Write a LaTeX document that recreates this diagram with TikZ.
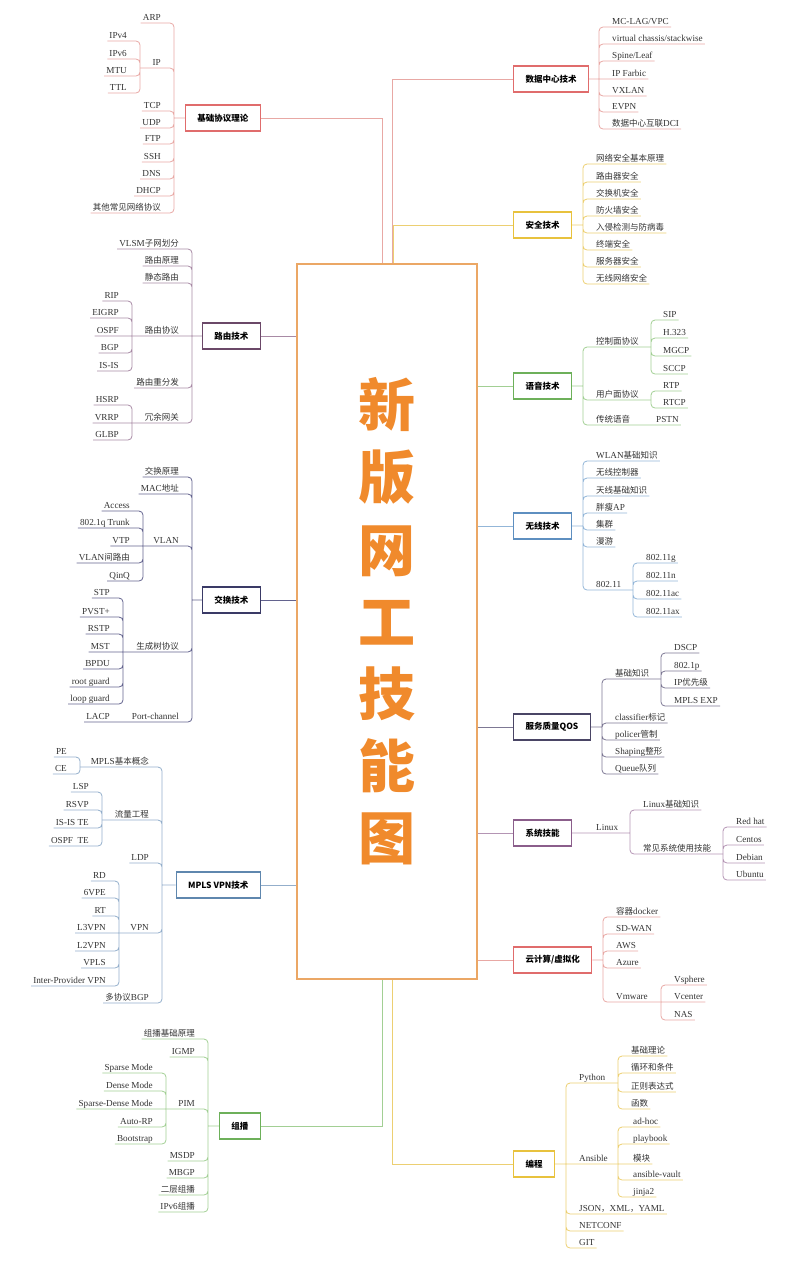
\documentclass[tikz,border=0pt]{standalone}
\usepackage{fontspec}
\setmainfont{Liberation Serif}[Scale=1.08]
\newfontfamily\cjk{Noto Sans CJK SC}
\newcommand\zh[1]{{\cjk #1}}

\definecolor{coreC}{HTML}{EBA765}
\definecolor{titleC}{HTML}{F08A2C}
\definecolor{txtC}{HTML}{333333}
\definecolor{redB}{HTML}{E06C6C}
\definecolor{redL}{HTML}{E8A8A4}
\definecolor{yelB}{HTML}{E8C23E}
\definecolor{yelL}{HTML}{ECCF72}
\definecolor{mauB}{HTML}{6B4868}
\definecolor{mauL}{HTML}{A88AA5}
\definecolor{grnB}{HTML}{6DB05A}
\definecolor{grnL}{HTML}{A2CF94}
\definecolor{bluB}{HTML}{5E8FC0}
\definecolor{bluL}{HTML}{93B6D8}
\definecolor{navB}{HTML}{3A3A66}
\definecolor{navL}{HTML}{63638E}
\definecolor{qosB}{HTML}{4A4565}
\definecolor{qosL}{HTML}{7D7894}
\definecolor{sysB}{HTML}{8B5E8B}
\definecolor{sysL}{HTML}{B495B4}
\definecolor{mplB}{HTML}{5F87AE}
\definecolor{mplL}{HTML}{93AECB}

\begin{document}
\begin{tikzpicture}[x=1pt,y=-1pt,
  lf/.style={inner xsep=2pt,inner ysep=1pt,text height=6.5pt,text depth=1.8pt,text=txtC,font=\fontsize{8.5}{10}\selectfont},
  lfL/.style={lf,anchor=south east},
  lfR/.style={lf,anchor=south west},
  topic/.style={draw,line width=1.2pt,fill=white,minimum height=26pt,inner xsep=12pt,text=black,font=\cjk\bfseries\fontsize{8.5}{10}\selectfont},
  lnk/.style={line width=0.8pt,rounded corners=4pt}]
  \useasboundingbox (0,0) rectangle (800,1280);

  % centre topic
  \node[draw=coreC,line width=1.4pt,minimum width=180pt,minimum height=715pt,inner sep=0pt,text=titleC,align=center,font=\cjk\bfseries\fontsize{57}{72.2}\selectfont] (core) at (387,621.5) {新\\版\\网\\工\\技\\能\\图};

  % main topics, left
  \node[topic,draw=redB,anchor=east] (proto) at (261,118) {基础协议理论};
  \node[topic,draw=mauB,anchor=east] (rt) at (261,336) {路由技术};
  \node[topic,draw=navB,anchor=east] (sw) at (261,600) {交换技术};
  \node[topic,draw=mplB,anchor=east] (mp) at (261,885) {MPLS VPN技术};
  \node[topic,draw=grnB,anchor=east] (mc) at (261,1126) {组播};
  % main topics, right
  \node[topic,draw=redB,anchor=west] (dc) at (513,79) {数据中心技术};
  \node[topic,draw=yelB,anchor=west] (sec) at (513,225) {安全技术};
  \node[topic,draw=grnB,anchor=west] (voi) at (513,386) {语音技术};
  \node[topic,draw=bluB,anchor=west] (wl) at (513,526) {无线技术};
  \node[topic,draw=qosB,anchor=west] (qos) at (513,727) {服务质量QOS};
  \node[topic,draw=sysB,anchor=west] (sys) at (513,833) {系统技能};
  \node[topic,draw=redB,anchor=west] (cld) at (513,960) {云计算/虚拟化};
  \node[topic,draw=yelB,anchor=west] (prg) at (513,1164) {编程};

  % centre to main topics
  \draw[line width=0.8pt,redL] (proto.east) -| ([xshift=-5pt]core.north);
  \draw[line width=0.8pt,redL] (dc.west) -| ([xshift=5pt]core.north);
  \draw[line width=0.8pt,yelL] (sec.west) -| ([xshift=6pt]core.north);
  \draw[line width=0.8pt,mauL] (rt.east) -- (rt.east -| core.west);
  \draw[line width=0.8pt,navL] (sw.east) -- (sw.east -| core.west);
  \draw[line width=0.8pt,mplL] (mp.east) -- (mp.east -| core.west);
  \draw[line width=0.8pt,grnL] (mc.east) -| ([xshift=-5pt]core.south);
  \draw[line width=0.8pt,grnL] (voi.west) -- (voi.west -| core.east);
  \draw[line width=0.8pt,bluL] (wl.west) -- (wl.west -| core.east);
  \draw[line width=0.8pt,qosL] (qos.west) -- (qos.west -| core.east);
  \draw[line width=0.8pt,sysL] (sys.west) -- (sys.west -| core.east);
  \draw[line width=0.8pt,redL] (cld.west) -- (cld.west -| core.east);
  \draw[line width=0.8pt,yelL] (prg.west) -| ([xshift=5pt]core.south);

  % 基础协议理论
  \coordinate (prJ) at (174,118);
  \coordinate (ipJ) at (140,68);
  \node[lfL] (pr1) at (163,23) {ARP};
  \node[lfL] (pr2) at (163,68) {IP};
  \node[lfL] (pr3) at (163,111) {TCP};
  \node[lfL] (pr4) at (163,128) {UDP};
  \node[lfL] (pr5) at (163,144) {FTP};
  \node[lfL] (pr6) at (163,162) {SSH};
  \node[lfL] (pr7) at (163,179) {DNS};
  \node[lfL] (pr8) at (163,196) {DHCP};
  \node[lfL] (pr9) at (163,213) {\zh{其他常见网络协议}};
  \node[lfL] (ip1) at (129,41) {IPv4};
  \node[lfL] (ip2) at (129,59) {IPv6};
  \node[lfL] (ip3) at (129,76) {MTU};
  \node[lfL] (ip4) at (129,93) {TTL};
  \draw[lnk,redL] (proto.west) -- (prJ)
    (prJ) |- (pr1.south east) -- (pr1.south west)
    (prJ) |- (pr2.south east) -- (ipJ)
    (prJ) |- (pr3.south east) -- (pr3.south west)
    (prJ) |- (pr4.south east) -- (pr4.south west)
    (prJ) |- (pr5.south east) -- (pr5.south west)
    (prJ) |- (pr6.south east) -- (pr6.south west)
    (prJ) |- (pr7.south east) -- (pr7.south west)
    (prJ) |- (pr8.south east) -- (pr8.south west)
    (prJ) |- (pr9.south east) -- (pr9.south west);
  \draw[lnk,redL] (ipJ) |- (ip1.south east) -- (ip1.south west)
    (ipJ) |- (ip2.south east) -- (ip2.south west)
    (ipJ) |- (ip3.south east) -- (ip3.south west)
    (ipJ) |- (ip4.south east) -- (ip4.south west);

  % 路由技术
  \coordinate (rtJ) at (192,336);
  \coordinate (rpJ) at (132,336);
  \coordinate (gwJ) at (132,423);
  \node[lfL] (rt1) at (181,249) {VLSM\zh{子网划分}};
  \node[lfL] (rt2) at (181,266) {\zh{路由原理}};
  \node[lfL] (rt3) at (181,283) {\zh{静态路由}};
  \node[lfL] (rt4) at (181,336) {\zh{路由协议}};
  \node[lfL] (rt5) at (181,388) {\zh{路由重分发}};
  \node[lfL] (rt6) at (181,423) {\zh{冗余网关}};
  \node[lfL] (rp1) at (121,301) {RIP};
  \node[lfL] (rp2) at (121,318) {EIGRP};
  \node[lfL] (rp3) at (121,336) {OSPF};
  \node[lfL] (rp4) at (121,353) {BGP};
  \node[lfL] (rp5) at (121,371) {IS-IS};
  \node[lfL] (gw1) at (121,405) {HSRP};
  \node[lfL] (gw2) at (121,423) {VRRP};
  \node[lfL] (gw3) at (121,440) {GLBP};
  \draw[lnk,mauL] (rt.west) -- (rtJ)
    (rtJ) |- (rt1.south east) -- (rt1.south west)
    (rtJ) |- (rt2.south east) -- (rt2.south west)
    (rtJ) |- (rt3.south east) -- (rt3.south west)
    (rtJ) -- (rt4.south east) -- (rpJ)
    (rtJ) |- (rt5.south east) -- (rt5.south west)
    (rtJ) |- (rt6.south east) -- (gwJ);
  \draw[lnk,mauL] (rpJ) |- (rp1.south east) -- (rp1.south west)
    (rpJ) |- (rp2.south east) -- (rp2.south west)
    (rpJ) -- (rp3.south east) -- (rp3.south west)
    (rpJ) |- (rp4.south east) -- (rp4.south west)
    (rpJ) |- (rp5.south east) -- (rp5.south west)
    (gwJ) |- (gw1.south east) -- (gw1.south west)
    (gwJ) -- (gw2.south east) -- (gw2.south west)
    (gwJ) |- (gw3.south east) -- (gw3.south west);

  % 交换技术
  \coordinate (swJ) at (192,600);
  \coordinate (vlJ) at (143,546);
  \coordinate (stJ) at (123,652);
  \coordinate (pcJ) at (123,722);
  \node[lfL] (sw1) at (181,477) {\zh{交换原理}};
  \node[lfL] (sw2) at (181,494) {MAC\zh{地址}};
  \node[lfL] (sw3) at (181,546) {VLAN};
  \node[lfL] (sw4) at (181,652) {\zh{生成树协议}};
  \node[lfL] (sw5) at (181,722) {Port-channel};
  \node[lfL] (vl1) at (132,511) {Access};
  \node[lfL] (vl2) at (132,528) {802.1q Trunk};
  \node[lfL] (vl3) at (132,546) {VTP};
  \node[lfL] (vl4) at (132,563) {VLAN\zh{间路由}};
  \node[lfL] (vl5) at (132,581) {QinQ};
  \node[lfL] (st1) at (112,598) {STP};
  \node[lfL] (st2) at (112,617) {PVST+};
  \node[lfL] (st3) at (112,634) {RSTP};
  \node[lfL] (st4) at (112,652) {MST};
  \node[lfL] (st5) at (112,669) {BPDU};
  \node[lfL] (st6) at (112,687) {root guard};
  \node[lfL] (st7) at (112,704) {loop guard};
  \node[lfL] (pc1) at (112,722) {LACP};
  \draw[lnk,navL] (sw.west) -- (swJ)
    (swJ) |- (sw1.south east) -- (sw1.south west)
    (swJ) |- (sw2.south east) -- (sw2.south west)
    (swJ) |- (sw3.south east) -- (vlJ)
    (swJ) |- (sw4.south east) -- (stJ)
    (swJ) |- (sw5.south east) -- (pcJ) -- (pc1.south east) -- (pc1.south west);
  \draw[lnk,navL] (vlJ) |- (vl1.south east) -- (vl1.south west)
    (vlJ) |- (vl2.south east) -- (vl2.south west)
    (vlJ) -- (vl3.south east) -- (vl3.south west)
    (vlJ) |- (vl4.south east) -- (vl4.south west)
    (vlJ) |- (vl5.south east) -- (vl5.south west)
    (stJ) |- (st1.south east) -- (st1.south west)
    (stJ) |- (st2.south east) -- (st2.south west)
    (stJ) |- (st3.south east) -- (st3.south west)
    (stJ) -- (st4.south east) -- (st4.south west)
    (stJ) |- (st5.south east) -- (st5.south west)
    (stJ) |- (st6.south east) -- (st6.south west)
    (stJ) |- (st7.south east) -- (st7.south west);

  % MPLS VPN技术
  \coordinate (mpJ) at (162,885);
  \coordinate (mbJ) at (80,767);
  \coordinate (teJ) at (102,820);
  \coordinate (vpJ) at (119,933);
  \node[lfL] (mp1) at (151,767) {MPLS\zh{基本概念}};
  \node[lfL] (mp2) at (151,820) {\zh{流量工程}};
  \node[lfL] (mp3) at (151,863) {LDP};
  \node[lfL] (mp4) at (151,933) {VPN};
  \node[lfL] (mp5) at (151,1003) {\zh{多协议}BGP};
  \node[lfL] (mb1) at (69,757) {PE};
  \node[lfL] (mb2) at (69,774) {CE};
  \node[lfL] (te1) at (91,792) {LSP};
  \node[lfL] (te2) at (91,810) {RSVP};
  \node[lfL] (te3) at (91,828) {IS-IS TE};
  \node[lfL] (te4) at (91,846) {OSPF\ \ TE};
  \node[lfL] (vp1) at (108,881) {RD};
  \node[lfL] (vp2) at (108,898) {6VPE};
  \node[lfL] (vp3) at (108,916) {RT};
  \node[lfL] (vp4) at (108,933) {L3VPN};
  \node[lfL] (vp5) at (108,951) {L2VPN};
  \node[lfL] (vp6) at (108,968) {VPLS};
  \node[lfL] (vp7) at (108,986) {Inter-Provider VPN};
  \draw[lnk,mplL] (mp.west) -- (mpJ)
    (mpJ) |- (mp1.south east) -- (mbJ)
    (mpJ) |- (mp2.south east) -- (teJ)
    (mpJ) |- (mp3.south east) -- (mp3.south west)
    (mpJ) |- (mp4.south east) -- (vpJ)
    (mpJ) |- (mp5.south east) -- (mp5.south west);
  \draw[lnk,mplL] (mbJ) |- (mb1.south east) -- (mb1.south west)
    (mbJ) |- (mb2.south east) -- (mb2.south west)
    (teJ) |- (te1.south east) -- (te1.south west)
    (teJ) |- (te2.south east) -- (te2.south west)
    (teJ) |- (te3.south east) -- (te3.south west)
    (teJ) |- (te4.south east) -- (te4.south west)
    (vpJ) |- (vp1.south east) -- (vp1.south west)
    (vpJ) |- (vp2.south east) -- (vp2.south west)
    (vpJ) |- (vp3.south east) -- (vp3.south west)
    (vpJ) -- (vp4.south east) -- (vp4.south west)
    (vpJ) |- (vp5.south east) -- (vp5.south west)
    (vpJ) |- (vp6.south east) -- (vp6.south west)
    (vpJ) |- (vp7.south east) -- (vp7.south west);

  % 组播
  \coordinate (mcJ) at (208,1126);
  \coordinate (pmJ) at (166,1109);
  \node[lfL] (mc1) at (197,1039) {\zh{组播基础原理}};
  \node[lfL] (mc2) at (197,1057) {IGMP};
  \node[lfL] (mc3) at (197,1109) {PIM};
  \node[lfL] (mc4) at (197,1161) {MSDP};
  \node[lfL] (mc5) at (197,1178) {MBGP};
  \node[lfL] (mc6) at (197,1195) {\zh{二层组播}};
  \node[lfL] (mc7) at (197,1212) {IPv6\zh{组播}};
  \node[lfL] (pm1) at (155,1073) {Sparse Mode};
  \node[lfL] (pm2) at (155,1091) {Dense Mode};
  \node[lfL] (pm3) at (155,1109) {Sparse-Dense Mode};
  \node[lfL] (pm4) at (155,1127) {Auto-RP};
  \node[lfL] (pm5) at (155,1144) {Bootstrap};
  \draw[lnk,grnL] (mc.west) -- (mcJ)
    (mcJ) |- (mc1.south east) -- (mc1.south west)
    (mcJ) |- (mc2.south east) -- (mc2.south west)
    (mcJ) |- (mc3.south east) -- (pmJ)
    (mcJ) |- (mc4.south east) -- (mc4.south west)
    (mcJ) |- (mc5.south east) -- (mc5.south west)
    (mcJ) |- (mc6.south east) -- (mc6.south west)
    (mcJ) |- (mc7.south east) -- (mc7.south west);
  \draw[lnk,grnL] (pmJ) |- (pm1.south east) -- (pm1.south west)
    (pmJ) |- (pm2.south east) -- (pm2.south west)
    (pmJ) -- (pm3.south east) -- (pm3.south west)
    (pmJ) |- (pm4.south east) -- (pm4.south west)
    (pmJ) |- (pm5.south east) -- (pm5.south west);

  % 数据中心技术
  \coordinate (dcJ) at (599,79);
  \node[lfR] (dc1) at (610,27) {MC-LAG/VPC};
  \node[lfR] (dc2) at (610,44) {virtual chassis/stackwise};
  \node[lfR] (dc3) at (610,61) {Spine/Leaf};
  \node[lfR] (dc4) at (610,79) {IP Farbic};
  \node[lfR] (dc5) at (610,96) {VXLAN};
  \node[lfR] (dc6) at (610,112) {EVPN};
  \node[lfR] (dc7) at (610,129) {\zh{数据中心互联}DCI};
  \draw[lnk,redL] (dc.east) -- (dcJ)
    (dcJ) |- (dc1.south west) -- (dc1.south east)
    (dcJ) |- (dc2.south west) -- (dc2.south east)
    (dcJ) |- (dc3.south west) -- (dc3.south east)
    (dcJ) -- (dc4.south west) -- (dc4.south east)
    (dcJ) |- (dc5.south west) -- (dc5.south east)
    (dcJ) |- (dc6.south west) -- (dc6.south east)
    (dcJ) |- (dc7.south west) -- (dc7.south east);

  % 安全技术
  \coordinate (seJ) at (583,225);
  \node[lfR] (se1) at (594,164) {\zh{网络安全基本原理}};
  \node[lfR] (se2) at (594,182) {\zh{路由器安全}};
  \node[lfR] (se3) at (594,199) {\zh{交换机安全}};
  \node[lfR] (se4) at (594,216) {\zh{防火墙安全}};
  \node[lfR] (se5) at (594,233) {\zh{入侵检测与防病毒}};
  \node[lfR] (se6) at (594,250) {\zh{终端安全}};
  \node[lfR] (se7) at (594,267) {\zh{服务器安全}};
  \node[lfR] (se8) at (594,284) {\zh{无线网络安全}};
  \draw[lnk,yelL] (sec.east) -- (seJ)
    (seJ) |- (se1.south west) -- (se1.south east)
    (seJ) |- (se2.south west) -- (se2.south east)
    (seJ) |- (se3.south west) -- (se3.south east)
    (seJ) |- (se4.south west) -- (se4.south east)
    (seJ) |- (se5.south west) -- (se5.south east)
    (seJ) |- (se6.south west) -- (se6.south east)
    (seJ) |- (se7.south west) -- (se7.south east)
    (seJ) |- (se8.south west) -- (se8.south east);

  % 语音技术
  \coordinate (voJ) at (583,386);
  \coordinate (cpJ) at (651,347);
  \coordinate (upJ) at (651,400);
  \node[lfR] (vo1) at (594,347) {\zh{控制面协议}};
  \node[lfR] (vo2) at (594,400) {\zh{用户面协议}};
  \node[lfR] (vo3) at (594,425) {\zh{传统语音}};
  \node[lfR] (cp1) at (661,320) {SIP};
  \node[lfR] (cp2) at (661,338) {H.323};
  \node[lfR] (cp3) at (661,356) {MGCP};
  \node[lfR] (cp4) at (661,374) {SCCP};
  \node[lfR] (up1) at (661,391) {RTP};
  \node[lfR] (up2) at (661,408) {RTCP};
  \node[lfR] (ps1) at (654,425) {PSTN};
  \draw[lnk,grnL] (voi.east) -- (voJ)
    (voJ) |- (vo1.south west) -- (cpJ)
    (voJ) |- (vo2.south west) -- (upJ)
    (voJ) |- (vo3.south west) -- (ps1.south east);
  \draw[lnk,grnL] (cpJ) |- (cp1.south west) -- (cp1.south east)
    (cpJ) |- (cp2.south west) -- (cp2.south east)
    (cpJ) |- (cp3.south west) -- (cp3.south east)
    (cpJ) |- (cp4.south west) -- (cp4.south east)
    (upJ) |- (up1.south west) -- (up1.south east)
    (upJ) |- (up2.south west) -- (up2.south east);

  % 无线技术
  \coordinate (wlJ) at (583,526);
  \coordinate (w8J) at (633,590);
  \node[lfR] (wl1) at (594,461) {WLAN\zh{基础知识}};
  \node[lfR] (wl2) at (594,478) {\zh{无线控制器}};
  \node[lfR] (wl3) at (594,496) {\zh{天线基础知识}};
  \node[lfR] (wl4) at (594,513) {\zh{胖瘦}AP};
  \node[lfR] (wl5) at (594,530) {\zh{集群}};
  \node[lfR] (wl6) at (594,547) {\zh{漫游}};
  \node[lfR] (wl7) at (594,590) {802.11};
  \node[lfR] (w81) at (644,563) {802.11g};
  \node[lfR] (w82) at (644,581) {802.11n};
  \node[lfR] (w83) at (644,599) {802.11ac};
  \node[lfR] (w84) at (644,617) {802.11ax};
  \draw[lnk,bluL] (wl.east) -- (wlJ)
    (wlJ) |- (wl1.south west) -- (wl1.south east)
    (wlJ) |- (wl2.south west) -- (wl2.south east)
    (wlJ) |- (wl3.south west) -- (wl3.south east)
    (wlJ) |- (wl4.south west) -- (wl4.south east)
    (wlJ) |- (wl5.south west) -- (wl5.south east)
    (wlJ) |- (wl6.south west) -- (wl6.south east)
    (wlJ) |- (wl7.south west) -- (w8J);
  \draw[lnk,bluL] (w8J) |- (w81.south west) -- (w81.south east)
    (w8J) |- (w82.south west) -- (w82.south east)
    (w8J) |- (w83.south west) -- (w83.south east)
    (w8J) |- (w84.south west) -- (w84.south east);

  % 服务质量QOS
  \coordinate (qsJ) at (602,727);
  \coordinate (bkJ) at (661,679);
  \node[lfR] (qs1) at (613,679) {\zh{基础知识}};
  \node[lfR] (qs2) at (613,723) {classifier\zh{标记}};
  \node[lfR] (qs3) at (613,740) {policer\zh{管制}};
  \node[lfR] (qs4) at (613,757) {Shaping\zh{整形}};
  \node[lfR] (qs5) at (613,774) {Queue\zh{队列}};
  \node[lfR] (bk1) at (672,653) {DSCP};
  \node[lfR] (bk2) at (672,671) {802.1p};
  \node[lfR] (bk3) at (672,688) {IP\zh{优先级}};
  \node[lfR] (bk4) at (672,706) {MPLS EXP};
  \draw[lnk,qosL] (qos.east) -- (qsJ)
    (qsJ) |- (qs1.south west) -- (bkJ)
    (qsJ) |- (qs2.south west) -- (qs2.south east)
    (qsJ) |- (qs3.south west) -- (qs3.south east)
    (qsJ) |- (qs4.south west) -- (qs4.south east)
    (qsJ) |- (qs5.south west) -- (qs5.south east);
  \draw[lnk,qosL] (bkJ) |- (bk1.south west) -- (bk1.south east)
    (bkJ) |- (bk2.south west) -- (bk2.south east)
    (bkJ) |- (bk3.south west) -- (bk3.south east)
    (bkJ) |- (bk4.south west) -- (bk4.south east);

  % 系统技能
  \coordinate (lxJ) at (630,833);
  \coordinate (osJ) at (723,854);
  \node[lfR] (lx) at (594,833) {Linux};
  \node[lfR] (lx1) at (641,810) {Linux\zh{基础知识}};
  \node[lfR] (lx2) at (641,854) {\zh{常见系统使用技能}};
  \node[lfR] (os1) at (734,827) {Red hat};
  \node[lfR] (os2) at (734,845) {Centos};
  \node[lfR] (os3) at (734,863) {Debian};
  \node[lfR] (os4) at (734,880) {Ubuntu};
  \draw[lnk,sysL] (sys.east) -- (lx.south west) -- (lxJ)
    (lxJ) |- (lx1.south west) -- (lx1.south east)
    (lxJ) |- (lx2.south west) -- (osJ);
  \draw[lnk,sysL] (osJ) |- (os1.south west) -- (os1.south east)
    (osJ) |- (os2.south west) -- (os2.south east)
    (osJ) |- (os3.south west) -- (os3.south east)
    (osJ) |- (os4.south west) -- (os4.south east);

  % 云计算/虚拟化
  \coordinate (clJ) at (603,960);
  \coordinate (vmJ) at (661,1002);
  \node[lfR] (cl1) at (614,917) {\zh{容器}docker};
  \node[lfR] (cl2) at (614,934) {SD-WAN};
  \node[lfR] (cl3) at (614,951) {AWS};
  \node[lfR] (cl4) at (614,968) {Azure};
  \node[lfR] (cl5) at (614,1002) {Vmware};
  \node[lfR] (vm1) at (672,985) {Vsphere};
  \node[lfR] (vm2) at (672,1002) {Vcenter};
  \node[lfR] (vm3) at (672,1020) {NAS};
  \draw[lnk,redL] (cld.east) -- (clJ)
    (clJ) |- (cl1.south west) -- (cl1.south east)
    (clJ) |- (cl2.south west) -- (cl2.south east)
    (clJ) |- (cl3.south west) -- (cl3.south east)
    (clJ) |- (cl4.south west) -- (cl4.south east)
    (clJ) |- (cl5.south west) -- (vmJ);
  \draw[lnk,redL] (vmJ) |- (vm1.south west) -- (vm1.south east)
    (vmJ) -- (vm2.south west) -- (vm2.south east)
    (vmJ) |- (vm3.south west) -- (vm3.south east);

  % 编程
  \coordinate (pgJ) at (566,1164);
  \coordinate (pyJ) at (618,1083);
  \coordinate (anJ) at (618,1164);
  \node[lfR] (pg1) at (577,1083) {Python};
  \node[lfR] (pg2) at (577,1164) {Ansible};
  \node[lfR] (pg3) at (577,1214) {JSON\zh{，}XML\zh{，}YAML};
  \node[lfR] (pg4) at (577,1231) {NETCONF};
  \node[lfR] (pg5) at (577,1248) {GIT};
  \node[lfR] (py1) at (629,1056) {\zh{基础理论}};
  \node[lfR] (py2) at (629,1073) {\zh{循环和条件}};
  \node[lfR] (py3) at (629,1092) {\zh{正则表达式}};
  \node[lfR] (py4) at (629,1109) {\zh{函数}};
  \node[lfR] (an1) at (631,1127) {ad-hoc};
  \node[lfR] (an2) at (631,1144) {playbook};
  \node[lfR] (an3) at (631,1164) {\zh{模块}};
  \node[lfR] (an4) at (631,1180) {ansible-vault};
  \node[lfR] (an5) at (631,1197) {jinja2};
  \draw[lnk,yelL] (prg.east) -- (pgJ)
    (pgJ) |- (pg1.south west) -- (pyJ)
    (pgJ) -- (pg2.south west) -- (anJ)
    (pgJ) |- (pg3.south west) -- (pg3.south east)
    (pgJ) |- (pg4.south west) -- (pg4.south east)
    (pgJ) |- (pg5.south west) -- (pg5.south east);
  \draw[lnk,yelL] (pyJ) |- (py1.south west) -- (py1.south east)
    (pyJ) |- (py2.south west) -- (py2.south east)
    (pyJ) |- (py3.south west) -- (py3.south east)
    (pyJ) |- (py4.south west) -- (py4.south east)
    (anJ) |- (an1.south west) -- (an1.south east)
    (anJ) |- (an2.south west) -- (an2.south east)
    (anJ) -- (an3.south west) -- (an3.south east)
    (anJ) |- (an4.south west) -- (an4.south east)
    (anJ) |- (an5.south west) -- (an5.south east);
\end{tikzpicture}
\end{document}
